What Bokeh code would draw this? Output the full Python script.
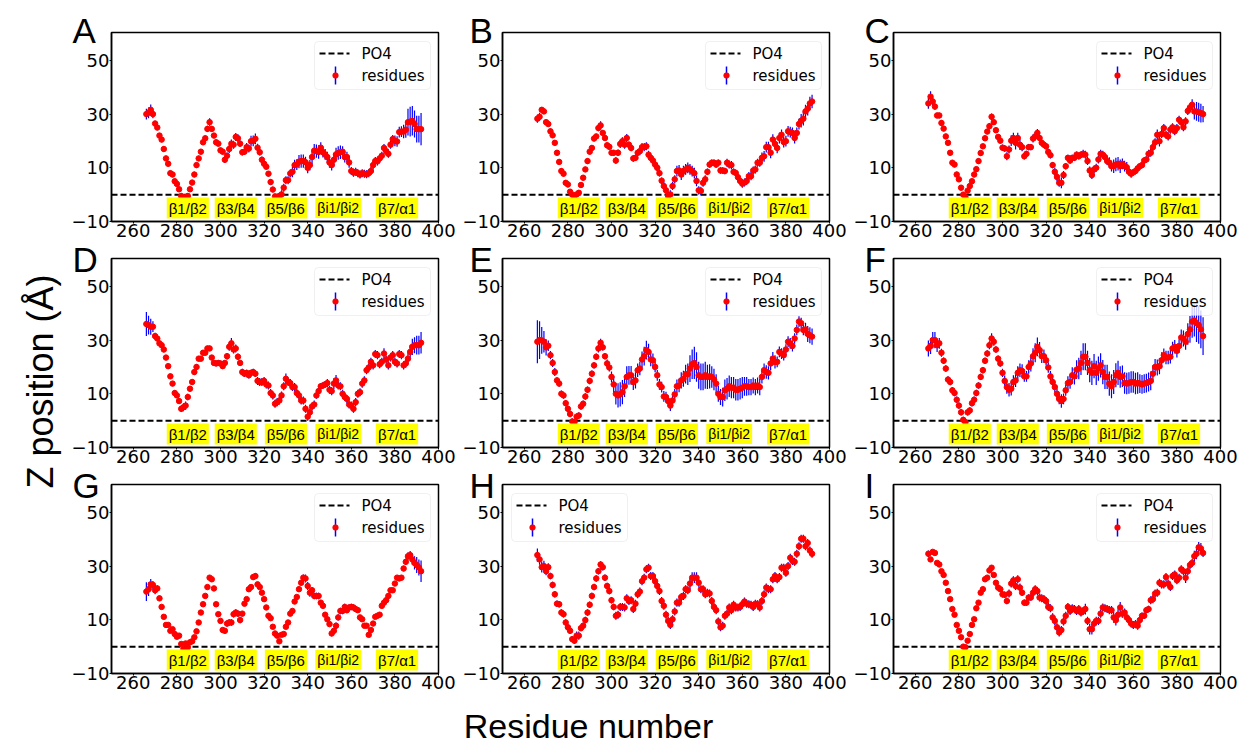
import numpy as np
from bokeh.plotting import figure
from bokeh.layouts import row, column
from bokeh.models import (ColumnDataSource, Label, FixedTicker, Range1d,
                          BoxAnnotation, Arrow)
from bokeh.embed import file_html
from bokeh.resources import INLINE

# ---------------- data ----------------
RESIDUES = list(range(266, 393))

Z_A = [30, 30.5, 31.6, 30, 26.5, 25, 22, 20.5, 17, 13.5,
       11.5, 8, 7.5, 5, 4, 2, -0.5, -1, -1, -0.5,
       2, 4.5, 7.5, 11, 13.5, 16, 19.5, 21, 24.5, 27,
       24.5, 22, 19.5, 19, 16.5, 16, 13, 14.5, 17, 19,
       18.6, 21.5, 21, 19, 15.8, 16, 17.7, 17.2, 19.9, 20,
       20.8, 17.5, 15.8, 13, 11.5, 10.4, 7.8, 4.7, 1.9, -0.7,
       -1.4, -0.5, 0.1, 2.6, 5.4, 5.4, 7.9, 8.5, 11, 11.2,
       12.3, 12.5, 12.5, 12.1, 10, 11, 14, 16.4, 16.2, 15.9,
       17.5, 15.8, 15, 14, 12, 11, 13, 15, 15.5, 15.8,
       16, 14, 14, 12, 8.8, 8.2, 8.5, 8, 7.5, 8,
       7.8, 7.6, 8, 8.8, 11, 12.5, 12.4, 13.5, 14.5, 17.4,
       16.2, 15.2, 18.6, 20.7, 20, 19.8, 23.3, 23.5, 23.5, 24.2,
       27, 27.2, 27.5, 26.3, 24.4, 24.4, 24.4]
ERR_A = [2, 2, 2, 1.5, 1, 1, 1, 1, 1, 1,
         1, 1, 1, 1, 1, 1, 1, 1, 1, 1,
         1, 1, 1, 1, 1, 1, 1, 1, 1.2, 1.5,
         1, 1, 1, 1, 1, 1, 1.2, 1.2, 1.5, 1.5,
         1.5, 1.5, 1.5, 1.2, 1.2, 1.2, 1.5, 1.5, 2, 2,
         2, 1.5, 1.2, 1.2, 1, 1, 1, 1, 1, 1,
         1, 1.2, 1.5, 1.5, 1.5, 1.5, 1.5, 2, 2, 2,
         2.5, 2.5, 2.5, 2, 2, 2, 2.5, 2.5, 2.5, 2.5,
         2, 2, 2, 2, 2, 2, 2.5, 2.5, 2.5, 2.5,
         2, 2, 2, 2, 1.5, 1.5, 1.5, 1.5, 1.5, 1.5,
         1.5, 1.5, 1.5, 1.5, 1.5, 1.5, 1.5, 1.5, 1.5, 1.5,
         1.5, 1.5, 1.5, 1.5, 2, 2, 2, 2, 2.5, 3,
         5, 5.5, 5.5, 5, 5, 5, 6]

Z_B = [28.3, 29, 31.6, 31, 27, 26.3, 23.6, 22.1, 19.3, 15.6,
       12.2, 8.8, 7.8, 4.4, 3.8, 1.1, 0, -0.5, 0.1, 0.7,
       3.6, 6.3, 9.4, 12.5, 16, 17.4, 20.9, 21.7, 24.8, 25.8,
       23, 21.1, 18.4, 17.8, 15.6, 15.6, 12.7, 15.6, 18.9, 19.9,
       18.6, 21.1, 18.6, 17.4, 13.5, 13.7, 15.6, 16.2, 17.7, 17.7,
       18, 14.9, 13.7, 12.7, 11.2, 10, 8, 5.2, 3.2, 1.6,
       -0.5, 0.1, 3.2, 5.7, 8.8, 9, 7.5, 8.8, 9.4, 10,
       9.4, 8.8, 8, 5.1, 1.6, 1.4, 4.4, 5.7, 8.5, 11.2,
       11.9, 11.9, 11.2, 11.9, 9, 9, 8.8, 11.9, 11.2, 11,
       8.5, 8.1, 6.5, 5.1, 4.1, 4.5, 5.1, 6.9, 6.9, 9,
       9.4, 11.9, 11.9, 13.7, 14.3, 17.7, 17.7, 15.6, 20.5, 18.9,
       17.4, 21.1, 22.3, 19.6, 19.9, 23.6, 23.3, 23, 21.1, 23,
       26.3, 27.5, 28.3, 31, 32, 34, 34.7]
ERR_B = [1.5, 1.5, 1, 1, 1, 1, 1, 1, 1, 1,
         1, 1, 1, 1, 1, 1, 1, 1, 1, 1,
         1, 1, 1, 1, 1, 1, 1, 1, 1.2, 1.5,
         1, 1, 1, 1, 1, 1, 1.2, 1.2, 1.5, 1.5,
         1.5, 1.5, 1.2, 1.2, 1.2, 1.2, 1.2, 1.5, 1.5, 1.5,
         1.5, 1.5, 1.5, 1.5, 1.5, 1.5, 1.2, 1.2, 1.5, 1.5,
         1.5, 1.5, 1.5, 1.5, 2, 2, 2, 2, 2, 2,
         2, 2, 2, 2, 1.5, 1.5, 1.5, 1.5, 1.2, 1.2,
         1.2, 1.2, 1.2, 1.2, 1.2, 1.2, 1.2, 1.5, 1.5, 1.5,
         1.2, 1.2, 1.2, 1.2, 1.5, 1.5, 1.5, 1.5, 1.5, 1.5,
         1.5, 1.5, 1.5, 2, 2, 2, 2, 2, 2, 2,
         2, 2, 2, 2, 2, 2, 2, 2, 2, 2,
         2, 2.5, 2.5, 2.5, 2.5, 2.5, 2.5]

Z_C = [34, 36.5, 34.7, 32.8, 29.5, 29.5, 26.7, 24.6, 21.7, 19.3,
       15.6, 11.9, 11.2, 7.5, 5.7, 2.6, 0, -1, 1.5, 3.2,
       5, 7.5, 9.5, 12.5, 15.5, 18, 21, 23.5, 25.5, 29,
       27, 24, 21.5, 20.1, 17.5, 17.2, 14.3, 16.8, 20.1, 21.1,
       19.3, 21.1, 18.6, 17.7, 14.3, 15.2, 17.7, 17.7, 20.9, 21.7,
       23, 21.1, 19.3, 18.6, 18, 15.9, 14.7, 11, 8.5, 6.6,
       4.4, 4.4, 7.3, 10.6, 13.7, 12.7, 13.7, 13.7, 14.9, 14.3,
       14.9, 15.2, 14.9, 12.5, 9, 7.3, 9.4, 10, 13.1, 15.2,
       14.9, 14, 12.5, 11.9, 10.6, 10.6, 11.2, 11.5, 10.6, 11.5,
       10.6, 10.2, 8.5, 7.8, 8.3, 8.8, 9.8, 10.6, 11, 12.7,
       13.1, 15.2, 15.6, 17.7, 19.5, 22.3, 19.9, 22.6, 24.8, 22.3,
       21.7, 24.2, 25.1, 23.6, 24.8, 27.9, 27, 25.1, 27.3, 31.2,
       32.5, 33.5, 31, 31, 30.7, 30.4, 30]
ERR_C = [2, 2, 1.5, 1.2, 1, 1, 1, 1, 1, 1,
         1, 1, 1, 1, 1, 1, 1, 1, 1, 1,
         1, 1, 1, 1, 1, 1, 1, 1, 1.2, 1.2,
         1, 1, 1, 1, 1.2, 1.2, 1.5, 1.5, 2, 2,
         2.5, 2, 2, 1.5, 1.2, 1.2, 1.2, 1.2, 1.5, 1.5,
         1.5, 1.2, 1.2, 1.2, 1.2, 1.2, 1.2, 1.2, 1.5, 1.5,
         1.5, 2, 1.5, 1.2, 1.2, 1.2, 1.2, 1.2, 1.2, 1.2,
         1.2, 1.5, 1.5, 1.5, 1.5, 1.5, 1.5, 1.5, 1.5, 1.5,
         1.5, 1.5, 1.5, 2, 2, 2.5, 2.5, 2.5, 2.5, 2,
         2, 2, 1.5, 1.5, 1.2, 1.2, 1.2, 1.2, 1.2, 1.2,
         1.2, 1.5, 1.5, 1.5, 1.5, 2, 2, 1.5, 1.5, 1.5,
         1.5, 1.5, 1.5, 1.5, 1.5, 1.5, 1.5, 1.5, 1.5, 1.5,
         1.5, 2, 3, 3.5, 3.5, 3.5, 3]

Z_D = [36, 35.6, 35, 35, 31.5, 30.6, 28.8, 28.1, 26.5, 23.5,
       20.3, 16.5, 13.8, 10.3, 9.4, 7.3, 4.4, 5, 5.6, 8.8,
       11.9, 14.4, 18.1, 20, 23.1, 23.1, 25.3, 25.3, 26.9, 26.9,
       23.5, 21.5, 21.3, 21.5, 21.3, 20.3, 21.5, 24, 27.5, 28.8,
       26.5, 26.9, 23.8, 21.5, 18.1, 17.5, 17.8, 16.9, 17.8, 18.1,
       17.5, 14.8, 14.4, 14.4, 14.8, 13.5, 13.1, 10.3, 9.4, 6.3,
       6.9, 7.5, 9.4, 12.8, 15.6, 14.4, 14, 12.5, 12.5, 10.3,
       9.4, 7.5, 7.5, 4.4, 1.5, 3.1, 5.3, 6, 9.4, 11,
       12.8, 13.1, 13.5, 14, 11.5, 11, 13.8, 15, 13.1, 12.8,
       10, 8.8, 8.1, 6, 5.6, 4.4, 6.9, 10, 10.6, 13.8,
       15, 18.8, 19.8, 21.9, 20.6, 24.8, 24.4, 21, 21.9, 25,
       22.8, 20.6, 23.5, 24.4, 21.9, 21.3, 24.8, 24.4, 20.6, 21.3,
       23.1, 25.6, 27.5, 28.1, 28.1, 28.1, 29]
ERR_D = [4.5, 3.5, 3, 2, 1.2, 1, 1, 1, 1, 1,
         1, 1, 1, 1, 1, 1, 1.2, 1.5, 1.5, 1.2,
         1, 1, 1, 1, 1, 1, 1, 1, 1, 1,
         1, 1, 1, 1, 1, 1, 1, 1.2, 1.5, 2,
         1.5, 1.5, 1.2, 1, 1.2, 1.2, 1.2, 1.2, 1.2, 1.2,
         1.2, 1.5, 1.5, 1.5, 1.5, 1.5, 1.5, 1.5, 1.5, 1.5,
         1.5, 1.5, 1.5, 1.5, 2, 1.5, 1.5, 1.5, 1.5, 1.5,
         1.5, 1.5, 1.5, 1.5, 1.5, 1.5, 1.5, 1.5, 1.2, 1.2,
         1.2, 1.2, 1.2, 1.5, 1.5, 1.5, 2, 2, 1.5, 1.5,
         1.5, 1.5, 1.5, 1.5, 1.5, 1.5, 1.5, 1.5, 1.5, 1.5,
         1.5, 1.5, 1.5, 1.5, 1.5, 1.5, 1.5, 1.5, 1.5, 2,
         1.5, 1.5, 1.5, 1.5, 1.5, 1.5, 1.5, 1.5, 1.5, 1.5,
         2, 2.5, 3, 3, 3.5, 3.5, 4]

Z_E = [29.4, 30, 29.9, 29.4, 27.3, 27.9, 24.4, 21.5, 18.1, 15,
       13.8, 10, 9.4, 6.5, 4.4, 2.5, -0.3, -0.6, 1.5, 1.9,
       5.3, 6.3, 9, 11.5, 14.8, 17.5, 20.6, 23.8, 26.9, 29,
       27.3, 24, 21.3, 19.8, 16.3, 13.5, 10, 9.4, 9.8, 10.6,
       12.8, 16.3, 16.9, 16.9, 14.4, 15, 18.8, 19.4, 22.8, 24,
       26.3, 25.6, 22.8, 22.5, 20, 16.9, 13.5, 12.5, 9, 8.8,
       7.3, 5.6, 7.5, 9.8, 12.8, 13.1, 15, 15.6, 17.3, 17.3,
       19.4, 21, 21.5, 20, 16.9, 16.3, 16.3, 16.9, 16.3, 16.5,
       16.3, 15.3, 13.8, 10, 8.8, 8.8, 11.3, 11.9, 12.8, 12.3,
       12.3, 11.5, 11.5, 11.9, 12.3, 12.8, 12.8, 12.5, 12.5, 13.1,
       12.5, 13.1, 12.5, 16.3, 18.8, 18.1, 17.8, 21.3, 23.1, 21.9,
       21.9, 25.6, 25, 24.4, 26.5, 29.4, 28.8, 27.8, 30.6, 33.8,
       36.9, 36.3, 33.8, 34, 32.3, 31.8, 31.3]
ERR_E = [8, 7, 5, 4, 3, 2, 1.5, 1.5, 1.5, 1.2,
         1.2, 1.2, 1.2, 1.2, 1.2, 1.2, 1.2, 1.2, 1.2, 1.2,
         1.2, 1.2, 1.2, 1.2, 1.2, 1.2, 1.2, 1.2, 1.5, 1.5,
         1.2, 1.2, 1.5, 1.5, 2, 3, 4, 4.5, 4.5, 4.5,
         4, 4, 3.5, 3.5, 3, 3, 2.5, 2.5, 3, 3.5,
         3.5, 3, 2.5, 2.5, 2, 2, 2, 2, 2, 2,
         2, 2, 2, 2, 2.5, 2.5, 3, 3, 3.5, 4,
         5, 5.5, 6, 5.5, 5, 5, 5, 5, 4.5, 4.5,
         4, 4, 3.5, 3, 3, 3.5, 4, 4, 4, 4,
         4, 4, 4, 4, 4, 3.5, 3.5, 3, 3, 3,
         3, 3, 3, 2.5, 2.5, 2.5, 2.5, 2.5, 2.5, 2.5,
         2, 2, 2, 2, 2, 2, 2, 2, 2, 2,
         2, 2, 2, 2.5, 3, 3, 3]

Z_F = [26.9, 27.8, 30, 30, 28.1, 28.8, 25.3, 22.3, 19.4, 15.3,
       14.4, 11.3, 10.3, 7.8, 5.6, 3.1, 0.3, -0.6, 3.1, 3.8,
       6.5, 7.8, 10.3, 13.1, 16.3, 18.8, 22.3, 25, 28.1, 30.6,
       29.4, 26.5, 23.1, 21.3, 17.8, 14.8, 12.5, 11.5, 11.9, 14.4,
       15, 17.8, 18.8, 18.5, 16.5, 16.5, 20, 21.3, 24, 25.3,
       27.5, 26.3, 24, 24, 22.5, 19.8, 16.5, 14.4, 12.5, 10,
       8.1, 7.3, 8.1, 11.3, 14, 14.4, 16.9, 16.5, 19, 19.4,
       21.5, 23.8, 23.8, 21.5, 18.8, 17.8, 20.3, 17.8, 19.4, 20.6,
       18.1, 16.3, 16.3, 13.8, 12.8, 14.4, 16.9, 17.8, 16.3, 16.5,
       14, 13.8, 14, 14.4, 14.4, 13.8, 14, 13.8, 13.5, 13.8,
       14, 14.4, 14.8, 17.5, 20, 19.8, 20.3, 22.5, 24.4, 23.5,
       23.5, 23.8, 26.9, 27.5, 26, 27.8, 31, 30.6, 29.4, 32.3,
       34, 36.9, 37.3, 36.3, 35.6, 34, 31.5]
ERR_F = [3, 3, 3, 3, 2.5, 2, 1.5, 1.2, 1.2, 1.2,
         1.2, 1.2, 1.2, 1.2, 1.2, 1.2, 1.2, 1.2, 1.2, 1.2,
         1.2, 1.2, 1.2, 1.2, 1.2, 1.2, 1.2, 1.2, 1.5, 2,
         1.5, 1.2, 1.2, 1.2, 1.5, 2, 2.5, 2.5, 2.5, 2.5,
         2.5, 2.5, 2.5, 2.5, 2, 2, 2.5, 3, 3, 3.5,
         3.5, 3, 2.5, 2.5, 2, 2, 2, 2, 2, 2,
         2, 2.5, 2, 2, 2.5, 2.5, 3, 3, 3.5, 4,
         4.5, 5, 5, 4.5, 4.5, 4.5, 4.5, 4.5, 4.5, 4.5,
         4.5, 4.5, 4.5, 4.5, 4.5, 4.5, 4.5, 4.5, 4, 4,
         4, 4, 4, 4, 4, 4, 4, 3.5, 3.5, 3.5,
         3.5, 3.5, 3.5, 3, 3, 3, 3, 3, 2.5, 2.5,
         2.5, 2.5, 2.5, 2.5, 2.5, 2.5, 3, 3, 3, 4,
         5, 6, 6, 7, 7, 7, 7]

Z_G = [20.5, 21.4, 23.2, 23, 21, 21.7, 18, 14.8, 11.1, 8.1,
       8.1, 5.9, 6.5, 4.7, 3.7, 4.1, 1, -0.9, 1.2, -0.2,
       1.6, 2, 3.5, 5.7, 9, 12.7, 15.8, 18.9, 22.2, 25.7,
       25.1, 21.7, 15.8, 12.1, 9.6, 6.2, 5.9, 8.6, 9, 9,
       12.1, 12.7, 12.3, 9.9, 12.3, 16, 17.7, 21.4, 22.2, 25.9,
       26.3, 23.2, 22.2, 20.1, 17.7, 14.6, 11.5, 10.6, 7.4, 4.9,
       4.1, 2, 4.4, 4.7, 7.4, 9, 12.3, 13.3, 16.8, 18.5,
       21.4, 23.8, 25.7, 25.4, 22.6, 20.1, 21, 18.9, 18.9, 18.9,
       16.4, 15.2, 11.9, 10.2, 8.4, 4.9, 5.9, 7.8, 10.9, 13.3,
       13.3, 14.8, 13.6, 14.6, 14.8, 14.6, 14, 13.6, 10.9, 10.2,
       7.8, 7.8, 4.4, 6.2, 8.6, 11.1, 11.5, 11.9, 15.2, 16.4,
       17.3, 18.9, 21, 21, 23.5, 25.7, 25.4, 25.7, 29.1, 31.6,
       33.7, 34.1, 32.5, 31.2, 30.4, 29.5, 28.1]
ERR_G = [3.5, 2.5, 2, 1.5, 1.5, 1.2, 1, 0.8, 0.8, 0.8,
         0.8, 0.8, 0.8, 0.8, 0.8, 0.8, 0.8, 0.8, 0.8, 0.8,
         0.8, 0.8, 0.8, 0.8, 0.8, 0.8, 0.8, 0.8, 0.8, 0.8,
         0.8, 0.8, 0.8, 0.8, 0.8, 0.8, 1, 1.2, 1.2, 1.2,
         1.2, 1.2, 1.2, 1.2, 1, 0.8, 0.8, 0.8, 0.8, 1,
         1, 0.8, 0.8, 0.8, 0.8, 0.8, 0.8, 0.8, 0.8, 0.8,
         0.8, 0.8, 0.8, 0.8, 0.8, 0.8, 0.8, 0.8, 0.8, 0.8,
         1, 1, 1.2, 1.5, 1.5, 1.5, 1.2, 1.2, 1.2, 1.2,
         1, 1, 0.8, 0.8, 0.8, 1, 1, 1.2, 1.2, 1.2,
         1.2, 1.2, 1.2, 1.2, 1.2, 1.2, 1, 0.8, 0.8, 0.8,
         0.8, 0.8, 0.8, 0.8, 0.8, 0.8, 0.8, 1, 1, 1,
         1, 1, 0.8, 0.8, 0.8, 0.8, 0.8, 0.8, 1, 1.2,
         1.5, 1.5, 2, 2.5, 3, 3, 4]

Z_H = [34.1, 32.5, 29.6, 30, 28.1, 29.6, 26.3, 23, 19.5, 16,
       15.8, 12.7, 12.1, 9, 7.2, 5.9, 2.8, 2.2, 4.1, 4.1,
       6.9, 7.8, 9.9, 12.7, 15.6, 18.9, 22.2, 25.4, 28.1, 30.6,
       29.6, 25.7, 22.6, 20.7, 17.3, 14.8, 11.5, 11.9, 14.8, 14.8,
       14.6, 18, 17, 17.3, 14, 16, 19.5, 20.5, 24.4, 25.7,
       28.8, 29.4, 26.3, 26.3, 24.4, 22.6, 20.7, 17, 15.2, 11.9,
       9.6, 8.1, 10.2, 13.1, 16.4, 16.4, 18.5, 18.9, 21.4, 21,
       23.5, 25.7, 25.7, 25.7, 23.8, 21.4, 21.4, 19.5, 20.1, 19.8,
       17, 14.8, 13.6, 9.4, 7.2, 7.8, 11.5, 12.3, 14.6, 13.6,
       15.6, 14.6, 14.6, 14.8, 15.8, 16.8, 16, 15.8, 15.6, 14.8,
       16, 15.8, 14.6, 17, 19.5, 22, 21.4, 21.4, 25.1, 26.3,
       25.1, 25.9, 29.4, 29.4, 27.5, 30, 33.1, 31.9, 31.6, 34.6,
       37.4, 40.2, 40.2, 37.4, 38.6, 35.8, 34.6]
ERR_H = [2.5, 2, 2, 2, 1.5, 1.5, 1.2, 1.2, 1.2, 1.2,
         1.2, 1.2, 1.2, 1.2, 1.2, 1.2, 1.2, 1.2, 1.5, 1.5,
         1.2, 1.2, 1.2, 1.2, 1.2, 1.2, 1.2, 1.2, 1.2, 1.2,
         1.2, 1.2, 1.2, 1.2, 1.2, 1.2, 1.5, 1.5, 1.5, 1.5,
         1.5, 1.5, 1.5, 1.5, 1.5, 1.5, 1.5, 1.5, 1.5, 1.5,
         1.5, 1.5, 1.5, 1.5, 1.5, 1.5, 1.5, 1.5, 1.5, 1.5,
         1.5, 1.5, 1.5, 1.5, 1.5, 1.5, 1.5, 1.5, 1.5, 1.5,
         2, 2, 2, 2, 1.5, 1.5, 1.5, 1.5, 1.5, 1.5,
         1.5, 1.5, 1.5, 1.5, 1.5, 1.5, 1.5, 1.5, 1.5, 1.5,
         1.5, 1.5, 1.5, 1.5, 1.5, 1.5, 1.5, 1.5, 1.5, 1.5,
         1.5, 1.5, 1.5, 1.5, 1.5, 1.5, 1.5, 1.5, 1.5, 1.5,
         1.5, 1.5, 1.5, 1.5, 1.5, 1.5, 1.5, 1.5, 1.5, 1.5,
         1.5, 1.5, 1.5, 1.5, 1.5, 1.5, 1.5]

Z_I = [34.6, 32.5, 35.3, 34.9, 31.2, 30.6, 28.1, 26.7, 23.8, 20.7,
       17.7, 14, 11.9, 8.1, 5.9, 3.5, 0, -0.2, 2.2, 4.7,
       8.1, 10.2, 14.3, 16.4, 20.1, 21.4, 25.1, 25.7, 28.4, 29.4,
       26.7, 23.8, 22, 21.4, 19.5, 19.3, 17, 19.8, 23.5, 24.7,
       22.6, 25.1, 22, 20.1, 16.4, 16.4, 18.3, 18.3, 20.1, 21.4,
       20.7, 18.3, 18, 17.7, 17, 14.8, 14.3, 10.9, 9.6, 7.2,
       5.3, 6.2, 9.4, 11.5, 14.8, 13.3, 14.3, 14, 13.3, 14,
       12.7, 13.3, 14, 9.6, 6.5, 6.5, 8.6, 9.6, 9.6, 12.3,
       14.6, 14.3, 14, 13.6, 13.6, 10.9, 9.9, 11.9, 14.6, 12.3,
       12.7, 10.9, 9.9, 8.6, 8.1, 8.4, 7.8, 9.9, 11.5, 11.5,
       13.6, 14, 17.3, 17.7, 19.8, 20.1, 23.8, 23.2, 23.2, 25.9,
       23.5, 22.2, 26.3, 26.9, 24.7, 25.7, 28.8, 28.1, 25.7, 28.1,
       30.4, 31.2, 33.7, 34.6, 37, 36.6, 34.9]
ERR_I = [1.2, 1, 0.8, 0.8, 0.8, 0.8, 0.8, 0.8, 0.8, 0.8,
         0.8, 0.8, 0.8, 0.8, 0.8, 0.8, 0.8, 0.8, 0.8, 0.8,
         0.8, 0.8, 0.8, 0.8, 0.8, 0.8, 0.8, 0.8, 0.8, 0.8,
         0.8, 0.8, 0.8, 1, 1.2, 1.2, 1.2, 1.5, 1.5, 1.5,
         1.5, 1.5, 1.5, 1.2, 1.2, 1.2, 1.2, 1.2, 1.5, 1.5,
         1.5, 1.5, 1.5, 1.5, 1.5, 1.5, 1.5, 1.5, 1.5, 1.5,
         1.5, 1.5, 1.5, 1.5, 1.5, 1.5, 1.5, 1.5, 1.5, 1.5,
         1.5, 1.5, 2, 1.5, 2, 2, 1.5, 1.5, 1.5, 1.5,
         1.5, 1.5, 1.5, 1.5, 1.5, 2, 2, 2, 2, 1.5,
         1.5, 1.5, 1.5, 1.5, 1.5, 1.5, 1.5, 1.5, 1.2, 1.2,
         1.2, 1.2, 1.5, 1.5, 1.5, 1.5, 1.5, 1.5, 1.5, 1.5,
         1.5, 1.5, 1.5, 1.5, 1.5, 1.5, 1.5, 1.5, 2, 1.5,
         1.5, 1.5, 2, 2, 2, 2, 1.5]

PANEL_LETTERS = ["A", "B", "C", "D", "E", "F", "G", "H", "I"]
PANEL_Z = [Z_A, Z_B, Z_C, Z_D, Z_E, Z_F, Z_G, Z_H, Z_I]
PANEL_ERR = [ERR_A, ERR_B, ERR_C, ERR_D, ERR_E, ERR_F, ERR_G, ERR_H, ERR_I]
LEGEND_ON_LEFT = ["H"]

PO4_Z = 0.0
X_LIMITS = [250, 400]
Y_LIMITS = [-10, 60.4]
X_TICKS = [260, 280, 300, 320, 340, 360, 380, 400]
Y_TICKS = [-10, 10, 30, 50]

LOOP_LABELS = ["β1/β2", "β3/β4", "β5/β6", "βi1/βi2", "β7/α1"]
LOOP_CENTERS = [285, 307, 330, 354, 381]
LOOP_LABEL_Z = -5

LEGEND_LABELS = ["PO4", "residues"]
X_TITLE = "Residue number"
Y_TITLE = "Z position (Å)"

# ---------------- layout / style ----------------
FRAME_W, FRAME_H = 327, 189
BORDER_L, BORDER_R = 46, 18
TOP_FIRST, TOP_OTHER = 32, 19
BORDER_B = 18
LEFT_W = 65
LETTER_X = [-39, -33, -29]
LETTER_STANDOFF = [-34.8, -40.8, -40.8]
TICK_FONT = "DejaVu Sans"
SANS = "Liberation Sans"
BLUE, RED = "#0000ff", "#ff0000"

LEG_W, LEG_H, LEG_MX, LEG_MY = 116, 48, 8, 9


def style_axes(p):
    for ax in (p.xaxis[0], p.yaxis[0]):
        ax.axis_line_color = "black"
        ax.axis_line_width = 1.5
        ax.major_tick_line_color = "black"
        ax.major_tick_out = 2
        ax.major_tick_in = 0
        ax.minor_tick_out = 0
        ax.minor_tick_in = 0
        ax.major_label_text_font = TICK_FONT
        ax.major_label_text_font_size = "18px"
        ax.major_label_text_color = "black"
        ax.major_label_standoff = 0
    p.xaxis[0].ticker = FixedTicker(ticks=X_TICKS)
    p.yaxis[0].ticker = FixedTicker(ticks=Y_TICKS)
    p.yaxis[0].major_label_overrides = {-10: "\u221210"}


def add_key(p, on_left):
    """Legend box in the style of a matplotlib legend (dashed PO4 line, error-bar key)."""
    left = LEG_MX + 1 if on_left else FRAME_W - LEG_MX - LEG_W
    top = FRAME_H - LEG_MY
    scr = dict(left_units="screen", right_units="screen",
               top_units="screen", bottom_units="screen")
    p.add_layout(BoxAnnotation(left=left, right=left + LEG_W, bottom=top - LEG_H, top=top,
                               fill_color="white", fill_alpha=0.8,
                               line_color="#cccccc", line_width=1, border_radius=4, **scr))
    y1, y2 = top - 12, top - 34
    p.add_layout(Arrow(x_start=left + 5, y_start=y1, x_end=left + 35, y_end=y1,
                       start_units="screen", end_units="screen", end=None,
                       line_color="black", line_width=2, line_dash="6 3"))
    p.add_layout(Arrow(x_start=left + 21, y_start=y2 - 9, x_end=left + 21, y_end=y2 + 9,
                       start_units="screen", end_units="screen", end=None,
                       line_color=BLUE, line_width=1.5))
    p.add_layout(BoxAnnotation(left=left + 18, right=left + 24, bottom=y2 - 3, top=y2 + 3,
                               fill_color=RED, fill_alpha=1, line_color=RED, line_width=0.5,
                               border_radius=3, **scr))
    for txt, yy in zip(LEGEND_LABELS, (y1, y2)):
        p.add_layout(Label(x=left + 47, y=yy, x_units="screen", y_units="screen",
                           text=txt, text_baseline="middle", text_font=TICK_FONT,
                           text_font_size="15px", text_color="black"))


def make_panel(idx):
    r, c = divmod(idx, 3)
    z = np.array(PANEL_Z[idx], dtype=float)
    e = np.array(PANEL_ERR[idx], dtype=float)
    src = ColumnDataSource(dict(x=RESIDUES, z=z, lo=z - e, hi=z + e))
    p = figure(frame_width=FRAME_W, frame_height=FRAME_H,
               x_range=Range1d(*X_LIMITS), y_range=Range1d(*Y_LIMITS),
               output_backend="svg", toolbar_location=None,
               title=PANEL_LETTERS[idx],
               min_border_left=BORDER_L, min_border_right=BORDER_R,
               min_border_top=TOP_FIRST if r == 0 else TOP_OTHER,
               min_border_bottom=BORDER_B,
               background_fill_color="white", border_fill_color="white")
    # panel letter: the plot title, pulled down to straddle the frame's top-left corner
    p.title.text_font = SANS
    p.title.text_font_size = "35px"
    p.title.text_font_style = "normal"
    p.title.text_color = "black"
    p.title.align = "left"
    p.title.vertical_align = "bottom"
    p.title.offset = LETTER_X[c]
    p.title.standoff = LETTER_STANDOFF[r]

    p.xgrid.visible = False
    p.ygrid.visible = False
    p.outline_line_color = "black"
    p.outline_line_width = 1.5
    p.outline_line_alpha = 1
    style_axes(p)

    p.line(x=X_LIMITS, y=[PO4_Z, PO4_Z], line_color="black",
           line_dash="6 3", line_width=2)
    p.segment(x0="x", y0="lo", x1="x", y1="hi", source=src,
              line_color=BLUE, line_width=1.2)
    p.scatter("x", "z", source=src, size=5.5, fill_color=RED, line_color=RED)

    for txt, xc in zip(LOOP_LABELS, LOOP_CENTERS):
        p.add_layout(Label(x=xc, y=LOOP_LABEL_Z, text=txt,
                           text_align="center", text_baseline="middle",
                           text_font=SANS,
                           text_font_size="14px" if "i" in txt else "15px",
                           text_color="black",
                           background_fill_color="#ffff00",
                           padding=2))

    add_key(p, PANEL_LETTERS[idx] in LEGEND_ON_LEFT)
    return p


panels = [make_panel(i) for i in range(9)]
grid = column(row(panels[0:3]), row(panels[3:6]), row(panels[6:9]))

ROWS_H = TOP_FIRST + 2 * TOP_OTHER + 3 * (FRAME_H + BORDER_B)
ytitle = figure(width=LEFT_W, height=ROWS_H, x_range=Range1d(0, 1), y_range=Range1d(0, 1),
                output_backend="svg", toolbar_location=None, min_border=0, title=None,
                x_axis_location=None, y_axis_location=None)
ytitle.grid.visible = False
ytitle.outline_line_color = None
ytitle.add_layout(Label(x=40, y=ROWS_H - 381, x_units="screen", y_units="screen",
                        text=Y_TITLE, angle=np.pi / 2, text_align="center",
                        text_baseline="middle", text_font=SANS, text_font_size="36px",
                        text_color="black"))

XT_H = 745 - ROWS_H
xtitle = figure(width=LEFT_W + 3 * (BORDER_L + FRAME_W + BORDER_R), height=XT_H,
                x_range=Range1d(0, 1), y_range=Range1d(0, 1),
                output_backend="svg", toolbar_location=None, min_border=0, title=None,
                x_axis_location=None, y_axis_location=None)
xtitle.grid.visible = False
xtitle.outline_line_color = None
xtitle.add_layout(Label(x=588, y=20, x_units="screen", y_units="screen",
                        text=X_TITLE, text_align="center", text_baseline="middle",
                        text_font=SANS, text_font_size="34px", text_color="black"))

layout = column(row(ytitle, grid), xtitle)

open("out.html", "w").write(file_html(layout, INLINE))
